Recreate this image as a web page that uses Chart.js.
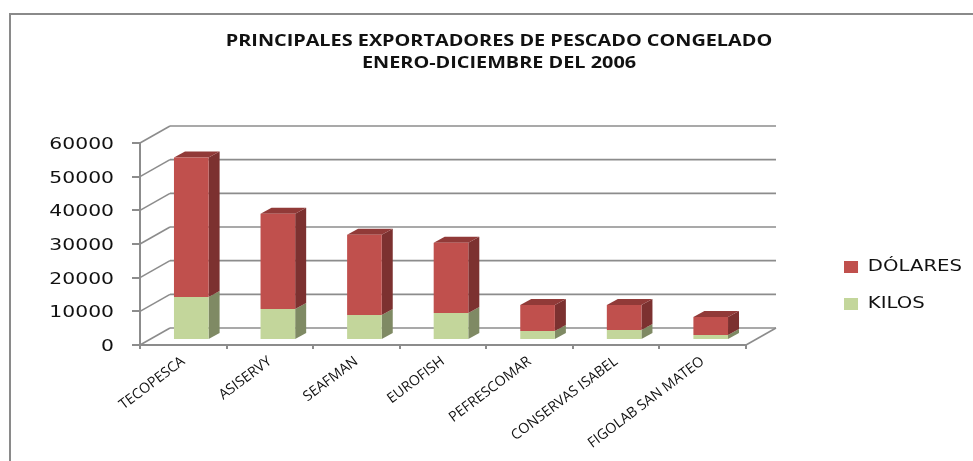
<!DOCTYPE html>
<html><head><meta charset="utf-8">
<script src="https://cdn.jsdelivr.net/npm/chart.js@4"></script>
<style>html,body{margin:0;padding:0;background:#fff}canvas{display:block}</style>
</head><body>
<canvas id="c" width="973" height="461" style="width:973px;height:461px"></canvas>
<script>
const categories = ["TECOPESCA","ASISERVY","SEAFMAN","EUROFISH","PEFRESCOMAR","CONSERVAS ISABEL","FIGOLAB SAN MATEO"];
const kilos   = [12800, 9200, 7400, 8000, 2700, 3000, 1500];
const dolares = [41400, 28300, 23850, 20900, 7700, 7400, 5300];
const yTicks  = [0,10000,20000,30000,40000,50000,60000];
const titleLines = ["PRINCIPALES EXPORTADORES DE PESCADO CONGELADO","ENERO-DICIEMBRE DEL 2006"];

const WALL = {dx:30, dy:-17};
const BAR_SHIFT = {dx:8, dy:-5};
const BAR_DEPTH = {dx:11, dy:-6};
const AXIS = '#8c8c8c';
const sideColors = ['#7f8a64','#7c3130'];
const topColor = '#913a38';

function stretch(box, sx, ax, dx, dy){
  if(box.__w) return; box.__w = true;
  const orig = box.draw.bind(box);
  box.draw = function(a){
    const c = box.ctx; c.save();
    c.translate(ax+dx, dy); c.scale(sx,1); c.translate(-ax,0);
    orig(a); c.restore();
  };
}
function stretchLabels(scale, sx, ax, dy){
  if(scale.__w) return; scale.__w = true;
  const orig = scale.drawLabels.bind(scale);
  scale.drawLabels = function(a){
    const c = scale.ctx; c.save();
    c.translate(ax,dy); c.scale(sx,1); c.translate(-ax,0);
    orig(a); c.restore();
  };
}
function line(c,x1,y1,x2,y2){c.beginPath();c.moveTo(x1,y1);c.lineTo(x2,y2);c.stroke();}
function poly(c,color,pts){c.fillStyle=color;c.beginPath();pts.forEach((p,i)=>i?c.lineTo(p[0],p[1]):c.moveTo(p[0],p[1]));c.closePath();c.fill();}

const threeD = {
  id:'threeD',
  afterLayout(chart){
    const l = chart.legend;
    l.left=823; l.right=973; l.top=238; l.bottom=345;
  },
  beforeDraw(chart){
    const c=chart.ctx;
    c.save();
    c.fillStyle='#fff';c.fillRect(0,0,chart.width,chart.height);
    c.strokeStyle='#8a8a8a';c.lineWidth=2;
    c.beginPath();c.moveTo(10,chart.height);c.lineTo(10,14);c.lineTo(chart.width,14);c.stroke();
    c.restore();
    stretchLabels(chart.scales.y,1.27,114,2);
    stretch(chart.legend,1.23,844,0,0);
    stretch(chart.titleBlock,1.24,373,126,0);
  },
  beforeDatasetsDraw(chart){
    const c=chart.ctx, y=chart.scales.y, a=chart.chartArea;
    c.save();
    c.strokeStyle=AXIS;c.lineWidth=1.6;
    y.ticks.forEach(t=>{
      const p=y.getPixelForValue(t.value);
      line(c,a.left,p,a.left+WALL.dx,p+WALL.dy);
      line(c,a.left+WALL.dx,p+WALL.dy,a.right+WALL.dx,p+WALL.dy);
    });
    const b=y.getPixelForValue(0);
    line(c,a.right,b,a.right+WALL.dx,b+WALL.dy);
    // side and top faces of the bars
    c.translate(BAR_SHIFT.dx,BAR_SHIFT.dy);
    const n=chart.data.datasets.length;
    chart.data.labels.forEach((_,j)=>{
      for(let i=0;i<n;i++){
        const e=chart.getDatasetMeta(i).data[j].getProps(['x','y','base','width']);
        const r=e.x+e.width/2, l=e.x-e.width/2, d=BAR_DEPTH;
        poly(c,sideColors[i],[[r,e.y],[r+d.dx,e.y+d.dy],[r+d.dx,e.base+d.dy],[r,e.base]]);
        if(i===n-1) poly(c,topColor,[[l,e.y],[l+d.dx,e.y+d.dy],[r+d.dx,e.y+d.dy],[r,e.y]]);
      }
    });
    c.restore();
  },
  beforeDatasetDraw(chart){
    chart.ctx.save();
    chart.ctx.translate(BAR_SHIFT.dx,BAR_SHIFT.dy);
  },
  afterDatasetDraw(chart){ chart.ctx.restore(); }
};

new Chart(document.getElementById('c'),{
  type:'bar',
  data:{labels:categories,datasets:[
    {label:'KILOS',data:kilos,backgroundColor:'#c3d69b',borderWidth:0,clip:false},
    {label:'DÓLARES',data:dolares,backgroundColor:'#c0504d',borderWidth:0,clip:false}
  ]},
  plugins:[threeD],
  options:{
    responsive:false,animation:false,
    layout:{padding:{left:0,right:227,top:0,bottom:0}},
    datasets:{bar:{barPercentage:0.4,categoryPercentage:1}},
    plugins:{
      tooltip:{enabled:false},
      title:{display:true,text:titleLines,color:'#111',
        font:{family:'Open Sans',size:16,weight:'bold',lineHeight:1.375},
        padding:{top:30,bottom:69}},
      legend:{position:'chartArea',align:'start',reverse:true,
        labels:{boxWidth:11.4,boxHeight:12,padding:21,color:'#111',
          font:{family:'DejaVu Sans',size:16}}}
    },
    scales:{
      x:{stacked:true,afterFit(s){s.height=116;},
        border:{color:AXIS,width:2},
        grid:{drawOnChartArea:false,drawTicks:true,tickLength:4,color:AXIS,lineWidth:2},
        ticks:{minRotation:37,maxRotation:37,autoSkip:false,padding:4,color:'#111',
          font:{family:'Open Sans',size:14.2}}},
      y:{stacked:true,min:0,max:60000,afterFit(s){s.width=140;},
        afterBuildTicks(s){s.ticks=yTicks.map(v=>({value:v}));},
        border:{color:AXIS,width:2},
        grid:{drawOnChartArea:false,drawTicks:true,tickLength:8,color:AXIS,lineWidth:2},
        ticks:{padding:18,color:'#111',font:{family:'DejaVu Sans',size:16},callback:v=>String(v)}}
    }
  }
});
</script>
</body></html>
